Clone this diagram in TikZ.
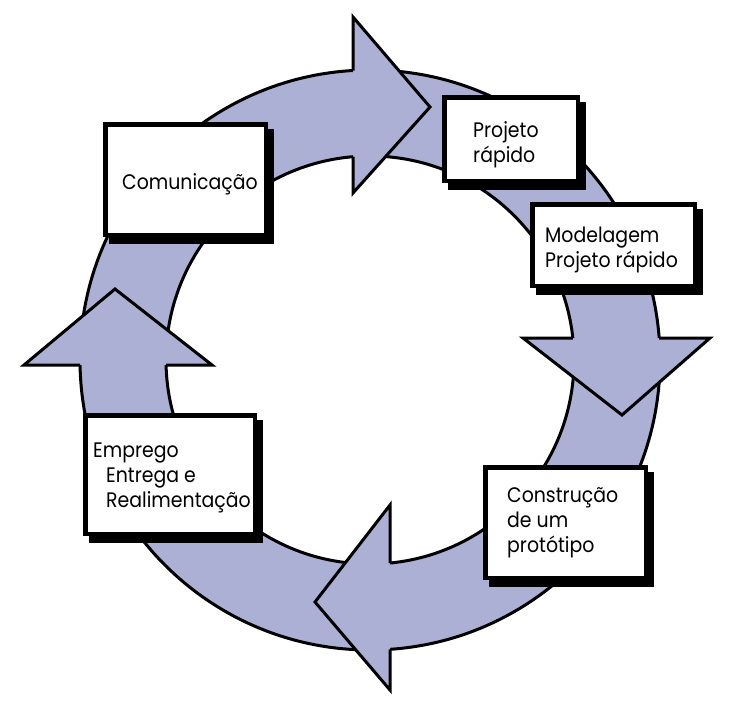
\documentclass[tikz,border=0pt]{standalone}
\usepackage{fontspec}
\setmainfont{Poppins}[FakeStretch=0.9]
\usetikzlibrary{shadows}
\definecolor{ringfill}{RGB}{172,176,212}
\begin{document}
\begin{tikzpicture}[x=1pt,y=-1pt,
  ringline/.style={line width=3pt, line join=miter, draw=black},
  stage/.style={draw=black, fill=white, line width=4.5pt, inner sep=0pt,
    drop shadow={shadow xshift=6pt, shadow yshift=-7pt, opacity=1,
                 fill=black, draw=black, line width=4.5pt}},
  caption/.style={font=\fontsize{21}{25}\selectfont, align=left,
    inner sep=0pt, text=black}]
\useasboundingbox (0,0) rectangle (738,712);

% the cycle ring
\fill[ringfill, even odd rule] (370,360) circle[radius=290pt]
                               (370,360) circle[radius=204pt];
\draw[ringline] (370,360) circle[radius=290pt];
\draw[ringline] (370,360) circle[radius=204pt];

% arrow heads on the ring: top, right, bottom, left
\fill[ringfill] (353,17) -- (430,107) -- (353,193) -- cycle;
\draw[ringline] (353,70.5) -- (353,17) -- (430,107) -- (353,193) -- (353,156.7);

\fill[ringfill] (523,338) -- (622,415) -- (710,338) -- cycle;
\draw[ringline] (572.8,338) -- (523,338) -- (622,415) -- (710,338) -- (659.2,338);

\fill[ringfill] (390,505) -- (315,602) -- (390,690) -- cycle;
\draw[ringline] (390,563) -- (390,505) -- (315,602) -- (390,690) -- (390,649.3);

\fill[ringfill] (24,365) -- (115,289) -- (212,365) -- cycle;
\draw[ringline] (80,365) -- (24,365) -- (115,289) -- (212,365) -- (166,365);

% stage boxes
\node[stage, minimum width=160.5pt, minimum height=110.5pt] (com) at (185.5,179.5) {};
\node[stage, minimum width=133.5pt, minimum height=83.5pt] (proj) at (511,139) {};
\node[stage, minimum width=162.5pt, minimum height=81.5pt] (mod) at (613.5,245) {};
\node[stage, minimum width=169.5pt, minimum height=118.5pt] (emp) at (170,474.5) {};
\node[stage, minimum width=160.5pt, minimum height=110.5pt] (cons) at (565.5,522.5) {};

% stage labels (base anchor sits on the last line)
\node[caption, anchor=base west] (comtxt) at (122,189) {Comunicação};
\node[caption, anchor=base west] (projtxt) at (473,162) {Projeto\\rápido};
\node[caption, anchor=base west] (modtxt) at (545,267) {Modelagem\\Projeto rápido};
\node[caption, anchor=base west] (emptxt) at (93,507)
  {Emprego\\\hspace*{13pt}Entrega e\\\hspace*{13pt}Realimentação};
\node[caption, anchor=base west] (constxt) at (507,552) {Construção\\de um\\protótipo};
\end{tikzpicture}
\end{document}
